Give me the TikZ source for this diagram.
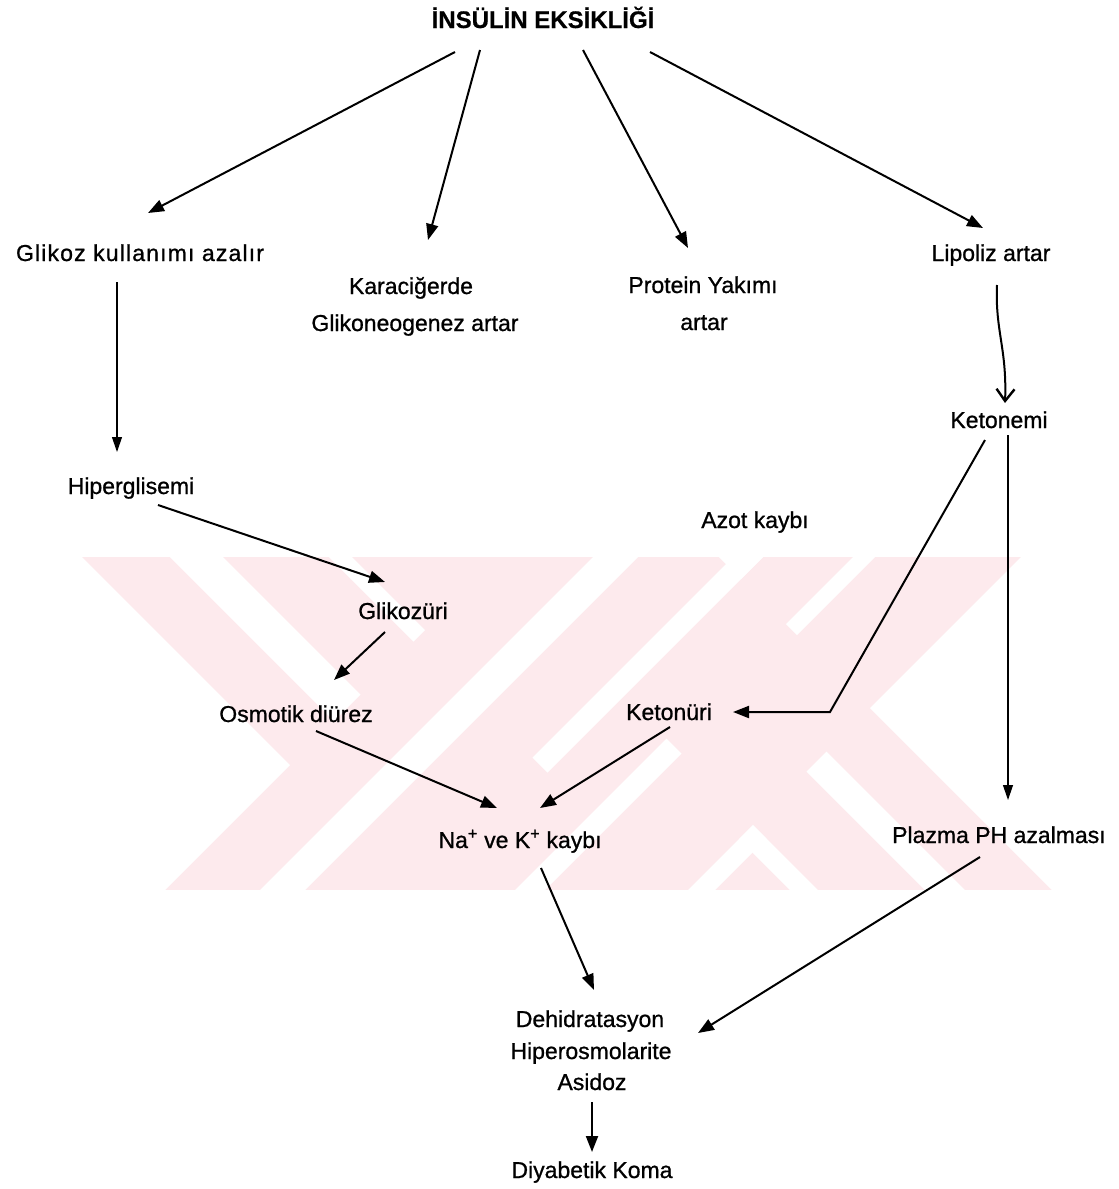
\documentclass[tikz,border=0pt]{standalone}
\usepackage{fontspec}
\setmainfont{Liberation Sans}
\newfontfamily\lblfont{Liberation Sans}[FakeBold=0.9]
\newfontfamily\ttlfont{Liberation Sans Bold}[FakeBold=0.6]
\usetikzlibrary{arrows.meta,calc}
\definecolor{wm}{RGB}{253,234,237}
\newcommand\wmcell[4]{\fill[white] (#1,#3) -- (#2,#3) -- (#2,#4) -- (#1,#4) -- cycle;}
\begin{document}
\begin{tikzpicture}[x=1pt,y=-1pt,
  lbl/.style={inner sep=0pt, anchor=base, font=\fontsize{23}{28}\lblfont},
  arr/.style={line width=2pt, -{Triangle[length=16pt,width=12pt]}},
  thinarr/.style={line width=1.2pt, -{Triangle[length=15pt,width=10pt]}},
  barbarr/.style={line width=2pt, -{Straight Barb[length=12pt,width=18pt,line width=2.4pt]}}
]
\useasboundingbox (0,0) rectangle (1119,1189);
% watermark
\begin{scope}
  \clip (0,557) rectangle (1119,890);
  \fill[wm] (0,557) rectangle (1119,890);
  \begin{scope}[x={(0.5pt,-0.5pt)},y={(-0.5pt,-0.5pt)}]
    \wmcell{0}{1055}{475}{1600}
    \wmcell{1578}{3000}{-1500}{-162}
    \wmcell{500}{1055}{334}{387}
    \wmcell{500}{1055}{205}{228}
    \wmcell{1290}{1320}{-600}{225}
    \wmcell{900}{1320}{-600}{-162}
    \wmcell{1410}{1432}{-600}{-162}
    \wmcell{1405}{1435}{72}{800}
    \wmcell{1578}{1605}{72}{800}
    \wmcell{1578}{2400}{72}{100}
    \wmcell{1578}{2400}{-75}{-35}
    \wmcell{1150}{1195}{-800}{800}
  \end{scope}
\end{scope}
% nodes
\node[lbl, font=\fontsize{24}{28}\ttlfont] (t) at (543,28) {İNSÜLİN EKSİKLİĞİ};
\node[lbl] (gk) at (140,261) {\addfontfeature{LetterSpace=5}Glikoz kullanımı azalır};
\node[lbl] (kc1) at (411,294) {Karaciğerde};
\node[lbl] (kc2) at (415,331) {Glikoneogenez artar};
\node[lbl] (pr1) at (703,293) {Protein Yakımı};
\node[lbl] (pr2) at (704,330) {artar};
\node[lbl] (lp) at (991,261) {Lipoliz artar};
\node[lbl] (kn) at (999,428) {Ketonemi};
\node[lbl] (hg) at (131,494) {Hiperglisemi};
\node[lbl] (az) at (755,528) {Azot kaybı};
\node[lbl] (gz) at (403,619) {Glikozüri};
\node[lbl] (od) at (296,722) {Osmotik diürez};
\node[lbl] (ku) at (669,720) {Ketonüri};
\node[lbl] (na) at (520,848) {Na\textsuperscript{+} ve K\textsuperscript{+} kaybı};
\node[lbl, anchor=base west] (pl) at (892,843) {Plazma PH azalması};
\node[lbl] (dh1) at (590,1027) {Dehidratasyon};
\node[lbl] (dh2) at (591,1059) {Hiperosmolarite};
\node[lbl] (dh3) at (592,1090) {Asidoz};
\node[lbl] (dk) at (592,1178) {Diyabetik Koma};
% connectors
\draw[arr] ($(t.base)+(-88,24)$) -- ($(gk.base)+(8,-48)$);
\draw[arr] ($(t.base)+(-63,22)$) -- ($(kc1.base)+(17,-54)$);
\draw[arr] ($(t.base)+(40,22)$) -- ($(pr1.base)+(-15,-45)$);
\draw[arr] ($(t.base)+(107,24)$) -- ($(lp.base)+(-8,-33)$);
\draw[thinarr] ($(gk.base)+(-23,21)$) -- ($(hg.base)+(-14,-42)$);
\draw[barbarr] ($(lp.base)+(6,24)$) .. controls ($(lp.base)+(4,70)$) and ($(kn.base)+(8,-80)$) .. ($(kn.base)+(6,-25)$);
\draw[arr] ($(hg.base)+(27,11)$) -- ($(gz.base)+(-18,-37)$);
\draw[arr] ($(gz.base)+(-18,13)$) -- ($(od.base)+(38,-42)$);
\coordinate (kbend) at ($(ku.base)+(161,-8)$);
\draw[arr] ($(kn.base)+(-14,12)$) -- (kbend) -- ($(ku.base)+(64,-8)$);
\draw[thinarr] ($(kn.base)+(9,7)$) -- ($(pl.base west)+(116,-43)$);
\draw[arr] ($(od.base)+(20,9)$) -- ($(na.base)+(-23,-40)$);
\draw[arr] ($(ku.base)+(1,7)$) -- ($(na.base)+(20,-40)$);
\draw[arr] ($(na.base)+(21,20)$) -- ($(dh1.base)+(4,-37)$);
\draw[arr] ($(pl.base west)+(88,14)$) -- ($(dh2.base)+(107,-26)$);
\draw[arr] ($(dh3.base)+(0,12)$) -- ($(dk.base)+(0,-26)$);
\end{tikzpicture}
\end{document}
